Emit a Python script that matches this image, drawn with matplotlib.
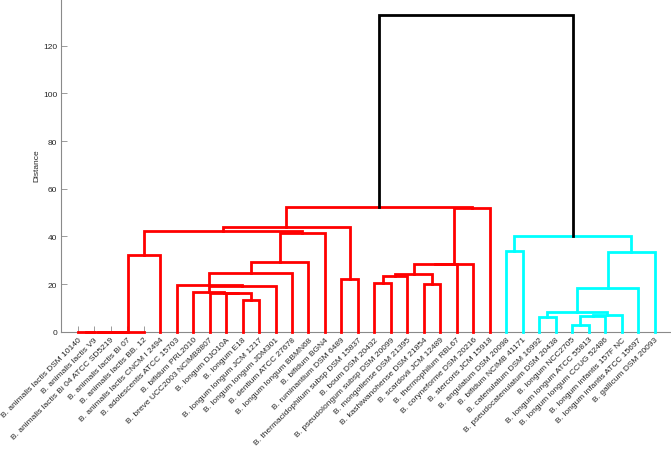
import matplotlib
matplotlib.use("Agg")
import matplotlib.pyplot as plt

plt.rcParams['font.family'] = ['Liberation Sans', 'DejaVu Sans']

# Leaf labels in the order they appear along the x axis
leaf_labels = [
    "B. animalis lactis DSM 10140",
    "B. animalis lactis V9",
    "B. animalis lactis Bi 04 ATCC SD5219",
    "B. animalis lactis Bi 07",
    "B. animalis lactis BB. 12",
    "B. animalis lactis CNCM I 2494",
    "B. adolescentis ATCC 15703",
    "B. bifidum PRL2010",
    "B. breve UCC2003 NCIMB8807",
    "B. longum DJO10A",
    "B. longum E18",
    "B. longum longum JCM 1217",
    "B. longum longum JDM301",
    "B. dentium ATCC 27678",
    "B. longum longum BBMN68",
    "B. bifidum BGN4",
    "B. ruminantium DSM 6489",
    "B. thermacidophilum subsp DSM 15837",
    "B. boum DSM 20432",
    "B. pseudolongum subsp DSM 20099",
    "B. mongoliense DSM 21395",
    "B. kashiwanohense DSM 21854",
    "B. scardovii JCM 12489",
    "B. thermophilum RBL67",
    "B. coryneforme DSM 20216",
    "B. stercoris JCM 15918",
    "B. angulatum DSM 20098",
    "B. bifidum NCIMB 41171",
    "B. catenulatum DSM 16992",
    "B. pseudocatenulatum DSM 20438",
    "B. longum NCC2705",
    "B. longum longum ATCC 55813",
    "B. longum longum CCUG 52486",
    "B. longum infantis 157F NC",
    "B. longum infantis ATCC 15697",
    "B. gallicum DSM 20093",
]

# Linkage: merge i creates node id len(leaf_labels)+i from the two children
merge_left = [0, 36, 37, 38, 39, 10, 9, 8, 7, 44, 6, 46, 47, 48, 40, 16, 50,
              18, 21, 53, 55, 56, 57, 58, 52,
              26, 28, 30, 63, 64, 62, 66, 67, 61, 60]
merge_right = [1, 2, 3, 4, 5, 11, 41, 42, 43, 12, 45, 13, 14, 15, 49, 17, 51,
               19, 22, 20, 54, 23, 24, 25, 59,
               27, 29, 31, 32, 33, 65, 34, 35, 68, 69]
merge_height = [0.0, 0.0, 0.0, 0.0, 32.2, 13.3, 16.2, 16.35, 16.5, 19.2, 19.4,
                24.5, 29.4, 41.6, 42.3, 22.2, 44.0,
                20.3, 20.0, 23.2, 24.1, 28.3, 28.5, 51.8, 52.1,
                34.0, 6.3, 2.8, 6.6, 6.8, 8.3, 18.2, 33.3, 40.3, 133.0]

cluster_colors = ['#ff0000', '#00ffff']
color_threshold = 93.0

n = len(leaf_labels)
xpos = {i: i + 1.0 for i in range(n)}
hpos = {i: 0.0 for i in range(n)}
children = {}
for k, (a, b, h) in enumerate(zip(merge_left, merge_right, merge_height)):
    node = n + k
    xpos[node] = (xpos[a] + xpos[b]) / 2.0
    hpos[node] = h
    children[node] = (a, b)

root = n + len(merge_height) - 1

# assign colours: clusters = top-most nodes below threshold, ordered by x
node_color = {}
cluster_roots = []

def find_clusters(node):
    if node < n:
        return
    if hpos[node] < color_threshold:
        cluster_roots.append(node)
        return
    for c in children[node]:
        find_clusters(c)

find_clusters(root)
cluster_roots.sort(key=lambda c: xpos[c])

def paint(node, col):
    if node < n:
        return
    node_color[node] = col
    for c in children[node]:
        paint(c, col)

for ci, cr in enumerate(cluster_roots):
    paint(cr, cluster_colors[ci % len(cluster_colors)])

W, H = 671, 452
fig = plt.figure(figsize=(W / 100, H / 100), dpi=100)
ax = fig.add_axes([61.3 / W, (H - 332.67) / H, (W - 61.3) / W, 333.67 / H])

for node, (a, b) in children.items():
    col = node_color.get(node, 'black')
    h = hpos[node]
    ax.plot([xpos[a], xpos[a], xpos[b], xpos[b]],
            [hpos[a], h, h, hpos[b]],
            color=col, lw=2.0, solid_joinstyle='miter', zorder=3,
            clip_on=False)

ax.set_xlim(0, n + 1)
ax.set_ylim(0, 140)
ax.set_yticks([0, 20, 40, 60, 80, 100, 120])
ax.set_xticks(range(1, n + 1))
ax.set_xticklabels(leaf_labels)
for lab in ax.get_xticklabels():
    lab.set_rotation(45)
    lab.set_ha('right')
    lab.set_va('top')
    lab.set_rotation_mode('anchor')

ax.spines['top'].set_visible(False)
ax.spines['right'].set_visible(False)
for s in ('left', 'bottom'):
    ax.spines[s].set_color('#8a8a8a')
    ax.spines[s].set_linewidth(0.8)
    ax.spines[s].set_zorder(1)
ax.tick_params(axis='both', direction='in', length=4.5, width=0.6,
               color='#8a8a8a', labelsize=6, labelcolor='#262626', pad=3)
ax.set_ylabel('Distance', fontsize=6, color='#262626')
ax.yaxis.set_label_coords(-0.034, 0.5)

fig.savefig('out.png', dpi=100)
